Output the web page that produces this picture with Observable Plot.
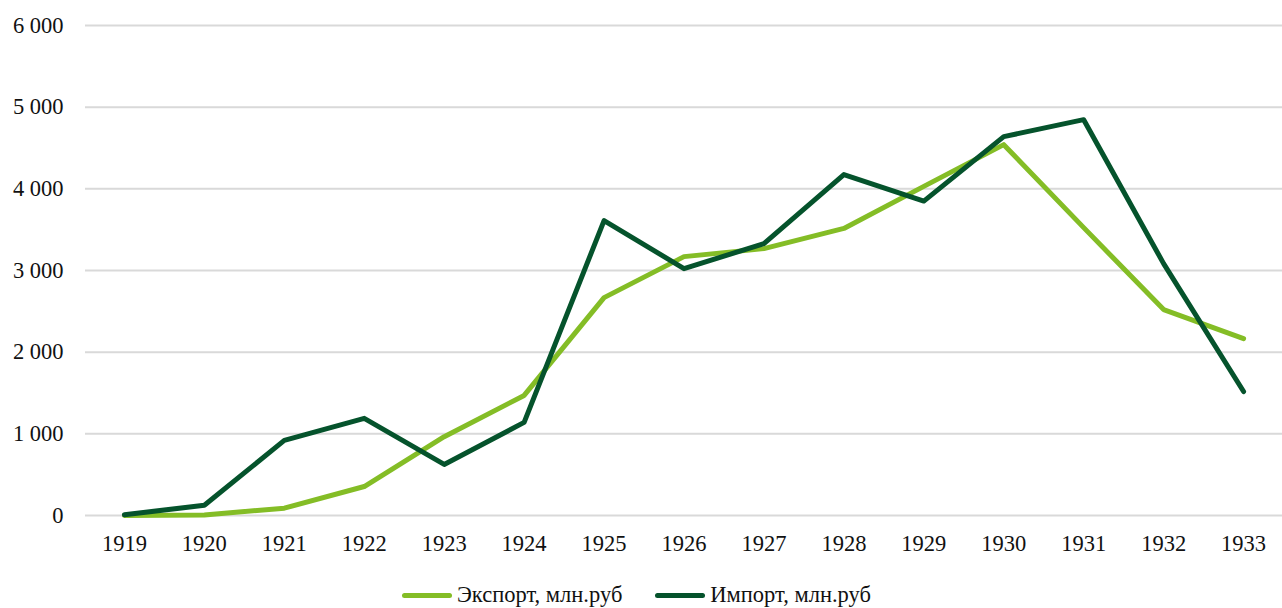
<!DOCTYPE html>
<html>
<head>
<meta charset="utf-8">
<script src="https://cdn.jsdelivr.net/npm/d3@7"></script>
<script src="https://cdn.jsdelivr.net/npm/@observablehq/plot@0.6"></script>
<style>
  body { margin: 0; background: #fff; font-family: "Liberation Serif", "Times New Roman", serif; }
  #chart svg { display: block; }
  .legend { display: flex; align-items: center; height: 70px; padding-left: 402px; font-size: 22.5px; color: #111; }
  .item { display: flex; align-items: center; margin-right: 33px; }
  .sw { width: 50px; height: 5px; border-radius: 3px; margin-right: 5px; }
</style>
</head>
<body>
<div id="chart"></div>
<script>
const years = [1919, 1920, 1921, 1922, 1923, 1924, 1925, 1926, 1927, 1928, 1929, 1930, 1931, 1932, 1933];
const exportVals = [0, 5, 90, 355, 965, 1470, 2668, 3170, 3268, 3515, 4030, 4541, 3525, 2521, 2166];
const importVals = [10, 125, 920, 1190, 625, 1140, 3611, 3023, 3329, 4175, 3850, 4639, 4847, 3084, 1518];
const seriesNames = ["Экспорт, млн.руб", "Импорт, млн.руб"];
const colors = ["#84bd26", "#05532c"];
const yTicks = [0, 1000, 2000, 3000, 4000, 5000, 6000];

const data = [];
years.forEach((y, i) => {
  data.push({year: String(y), value: exportVals[i], series: seriesNames[0]});
  data.push({year: String(y), value: importVals[i], series: seriesNames[1]});
});
const fmt = v => d3.format(",")(v).replace(/,/g, " ");

const chart = Plot.plot({
  width: 1282,
  height: 560,
  marginLeft: 85,
  marginRight: 0,
  marginTop: 25,
  marginBottom: 45,
  style: {fontFamily: "'Liberation Serif', 'Times New Roman', serif", fontSize: "22.5px", color: "#111", background: "#fff"},
  x: {type: "point", domain: years.map(String), padding: 0.487, round: false, label: null},
  y: {domain: [0, 6000], label: null},
  color: {domain: seriesNames, range: colors},
  marks: [
    Plot.gridY(yTicks, {stroke: "#d9d9d9", strokeOpacity: 1, strokeWidth: 2}),
    Plot.axisY(yTicks, {tickSize: 0, tickPadding: 22, tickFormat: fmt, fontSize: 22.5, label: null}),
    Plot.axisX({tickSize: 0, tickPadding: 20, fontSize: 22.5, label: null}),
    Plot.line(data, {x: "year", y: "value", z: "series", stroke: "series", strokeWidth: 5, strokeLinecap: "round", strokeLinejoin: "round"})
  ]
});
document.getElementById("chart").appendChild(chart);

const legend = document.createElement("div");
legend.className = "legend";
seriesNames.forEach((n, i) => {
  const it = document.createElement("div");
  it.className = "item";
  const sw = document.createElement("span");
  sw.className = "sw";
  sw.style.background = colors[i];
  const t = document.createElement("span");
  t.textContent = n;
  it.appendChild(sw); it.appendChild(t);
  legend.appendChild(it);
});
document.getElementById("chart").appendChild(legend);
</script>
</body>
</html>
